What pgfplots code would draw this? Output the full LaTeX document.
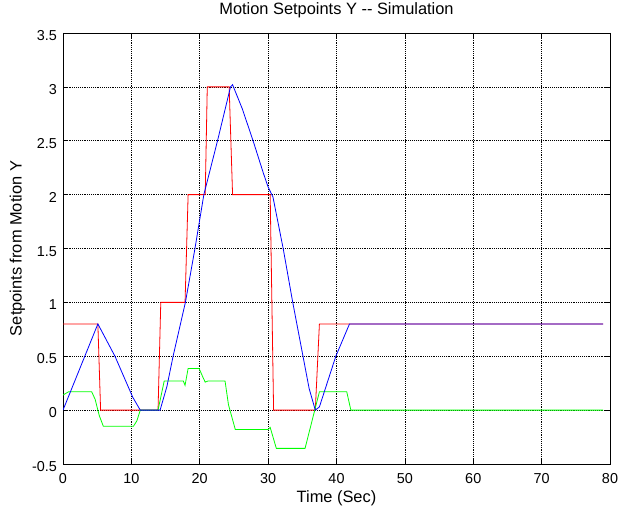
\documentclass[border=0pt]{standalone}
\usepackage{fontspec}
\setmainfont{Liberation Sans}
\usepackage{pgfplots}
\pgfplotsset{compat=1.18}
\begin{document}
\begin{tikzpicture}
\begin{axis}[
  scale only axis,
  width=410.25pt, height=323.25pt,
  xmin=0, xmax=80, ymin=-0.5, ymax=3.5,
  xtick={0,10,...,80},
  ytick={-0.5,0,0.5,1,1.5,2,2.5,3,3.5},
  yticklabels={-0.5,0,0.5,1,1.5,2,2.5,3,3.5},
  xticklabels={0,10,20,30,40,50,60,70,80},
  tick align=inside,
  major tick length=4pt,
  tick style={black, line width=0.5pt},
  axis line style={black, line width=0.6pt},
  grid=major,
  grid style={black, densely dotted, line width=0.5pt},
  font=\fontsize{12.3}{14}\selectfont,
  ticklabel style={font=\fontsize{10.8}{13}\selectfont},
  yticklabel style={xshift=-1pt, yshift=-2pt},
  xticklabel style={yshift=-3.5pt},
  title={Motion Setpoints Y -{}- Simulation},
  title style={at={(axis description cs:0.5,1)}, anchor=base, yshift=7.5pt},
  xlabel={Time (Sec)},
  ylabel={Setpoints from Motion Y},
  xlabel style={at={(axis description cs:0.5,0)}, anchor=base, yshift=-28.5pt},
  ylabel style={at={(axis description cs:-0.0832,0.5)}, anchor=center},
]
\addplot[red, line width=0.6pt] coordinates {
(0,0.8)(5.1,0.8)(5.5,0)(13.9,0)(14.3,1)(17.85,1)(18.3,2)(20.8,2)(21.1,3)(24.3,3)(24.8,2)(30.3,2)(30.8,0)(36.9,0)(37.5,0.8)(79,0.8)
};
\addplot[green, line width=0.6pt] coordinates {
(0,0.14)(0.8,0.17)(4.2,0.17)(4.7,0.1)(5.3,-0.05)(5.9,-0.15)(10.3,-0.15)(10.8,-0.1)(11.3,0)(13.9,0)(14.8,0.27)(17.6,0.27)(17.85,0.23)(18.3,0.387)(19.9,0.387)(20.5,0.3)(20.8,0.26)(21.2,0.27)(23.7,0.27)(24.2,0.05)(25.2,-0.18)(30.0,-0.18)(30.3,-0.16)(31.2,-0.355)(35.4,-0.355)(37.5,0.17)(41.5,0.17)(42.1,0)(79,0)
};
\addplot[blue, line width=0.6pt] coordinates {
(0,0)(5.1,0.8)(7.6,0.5)(10.2,0.12)(11.3,0)(14.2,0)(15.2,0.22)(16.1,0.5)(17.9,1)(19.3,1.5)(20.6,2)(22.6,2.5)(24.5,3.0)(24.8,3.02)(26.2,2.8)(27.8,2.5)(29.3,2.2)(30.0,2.07)(30.7,1.98)(32.2,1.5)(33.6,1)(35.1,0.5)(36.0,0.2)(36.9,0)(37.5,0.03)(39.9,0.5)(41.9,0.8)(79,0.8)
};
\end{axis}
\pgfresetboundingbox
\path ([shift={(-47.25pt,-37.5pt)}]current axis.south west) rectangle ([shift={(6pt,24.75pt)}]current axis.north east);
\end{tikzpicture}
\end{document}
